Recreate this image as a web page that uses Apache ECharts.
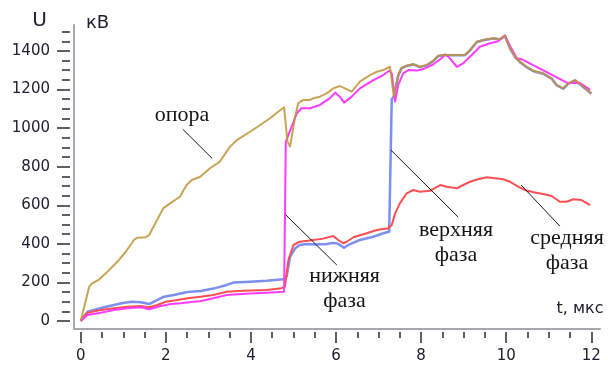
<!DOCTYPE html>
<html>
<head>
<meta charset="utf-8">
<script src="https://cdn.jsdelivr.net/npm/echarts@6/dist/echarts.min.js"></script>
<style>
  html, body { margin: 0; padding: 0; background: #fff; }
  #chart { width: 608px; height: 367px; }
</style>
</head>
<body>
<div id="chart"></div>
<script>
// Voltage waveforms, U (kV) versus t (µs)
const support = [[0,0],[0.2,178],[0.27,195],[0.43,215],[0.63,256],[0.86,307],[1.06,359],[1.25,420],[1.33,432],[1.52,434],[1.61,446],[1.71,489],[1.94,584],[2.10,610],[2.33,644],[2.49,705],[2.61,731],[2.81,748],[3.04,792],[3.27,826],[3.51,904],[3.67,938],[3.98,981],[4.22,1016],[4.45,1051],[4.64,1085],[4.78,1108],[4.86,930],[4.92,904],[5.04,1059],[5.11,1128],[5.23,1146],[5.39,1146],[5.47,1155],[5.62,1163],[5.78,1180],[5.94,1206],[6.09,1218],[6.21,1206],[6.37,1189],[6.56,1241],[6.80,1275],[6.96,1292],[7.11,1301],[7.27,1318],[7.31,1310],[7.36,1163],[7.46,1275],[7.54,1313],[7.66,1324],[7.82,1331],[7.97,1318],[8.13,1327],[8.29,1350],[8.40,1375],[8.52,1379],[9.03,1380],[9.15,1405],[9.31,1448],[9.46,1457],[9.70,1466],[9.85,1462],[9.97,1479],[10.09,1414],[10.21,1370],[10.32,1345],[10.48,1318],[10.64,1297],[10.87,1284],[11.07,1258],[11.19,1223],[11.34,1206],[11.46,1232],[11.62,1249],[11.77,1223],[12.0,1180]];

const lowerPhase = [[0,0],[0.16,31],[0.47,43],[0.78,57],[1.10,66],[1.41,71],[1.61,61],[1.88,78],[2.12,88],[2.35,92],[2.66,100],[2.80,102],[3.12,118],[3.43,135],[3.98,143],[4.37,147],[4.78,152],[4.82,930],[4.86,925],[5.08,1077],[5.19,1103],[5.39,1103],[5.62,1120],[5.86,1155],[5.98,1184],[6.09,1163],[6.19,1132],[6.37,1163],[6.56,1206],[6.88,1249],[7.11,1275],[7.25,1297],[7.31,1285],[7.39,1137],[7.46,1223],[7.58,1284],[7.70,1301],[7.90,1298],[8.05,1306],[8.29,1331],[8.48,1362],[8.56,1382],[8.64,1370],[8.84,1318],[8.99,1336],[9.19,1379],[9.38,1422],[9.62,1440],[9.81,1450],[9.97,1481],[10.09,1426],[10.25,1362],[10.36,1357],[11.46,1232],[11.73,1235],[11.97,1198]];

const upperPhase = [[0,0],[0.16,48],[0.31,57],[0.55,71],[0.78,83],[1.02,95],[1.21,100],[1.41,97],[1.61,88],[1.72,100],[1.96,126],[2.19,135],[2.51,150],[2.82,155],[3.12,168],[3.43,187],[3.59,199],[3.98,204],[4.37,209],[4.76,216],[4.84,230],[4.92,333],[5.04,377],[5.15,394],[5.31,399],[5.55,396],[5.78,399],[5.94,405],[6.05,400],[6.19,380],[6.33,399],[6.56,420],[6.88,437],[7.11,455],[7.25,463],[7.29,470],[7.31,1150],[7.36,1165],[7.46,1270],[7.54,1310],[7.66,1322],[7.82,1330],[7.97,1316],[8.13,1325],[8.29,1348],[8.40,1373],[8.52,1378],[9.03,1378],[9.15,1402],[9.31,1446],[9.46,1455],[9.70,1464],[9.85,1460],[9.97,1477],[10.09,1412],[10.21,1368],[10.32,1343],[10.48,1316],[10.64,1295],[10.87,1282],[11.07,1256],[11.19,1221],[11.34,1204],[11.46,1230],[11.62,1247],[11.77,1221],[12.0,1178]];

const middlePhase = [[0,0],[0.16,43],[0.47,57],[0.78,66],[1.10,74],[1.41,78],[1.61,71],[1.80,83],[2.0,100],[2.27,109],[2.51,118],[2.82,126],[3.12,135],[3.43,152],[3.82,157],[4.37,161],[4.72,170],[4.80,178],[4.88,316],[5.0,394],[5.15,411],[5.47,420],[5.70,427],[5.86,437],[5.94,440],[6.05,420],[6.17,403],[6.25,411],[6.41,434],[6.72,455],[6.96,472],[7.23,481],[7.31,498],[7.39,558],[7.50,610],[7.66,662],[7.82,679],[7.97,670],[8.21,675],[8.45,705],[8.60,696],[8.84,688],[8.99,705],[9.15,722],[9.27,731],[9.54,745],[9.74,740],[9.93,735],[10.09,722],[10.25,700],[10.44,679],[10.64,667],[10.87,658],[11.07,648],[11.26,618],[11.42,618],[11.58,631],[11.77,627],[11.97,601]];

// Axis ticks
const yLabelTicks = [0, 200, 400, 600, 800, 1000, 1200, 1400];
const ySmallTicks = [];
for (let v = 0; v <= 1500; v += 50) ySmallTicks.push(v);

// Callout texts, their anchor points and leader lines (t, U)
const calloutTexts = ['опора', 'нижняя\nфаза', 'верхняя\nфаза', 'средняя\nфаза'];
const calloutAnchors = [[2.38, 1068], [6.20, 165], [8.82, 407], [11.43, 364]];
const leaderLines = [[2.40, 994, 3.09, 843], [4.82, 550, 6.02, 290], [7.29, 886, 8.87, 539], [10.35, 705, 11.26, 492]];

const sans = 'DejaVu Sans';
const serif = 'Liberation Serif';
const textColor = '#202030';
const tickStyle = { color: '#2a2a35', width: 1.5 };
const plain = v => String(v);

const chart = echarts.init(document.getElementById('chart'), null, { renderer: 'canvas' });

function lineSeries(data, color, width, z, opacity) {
  return {
    type: 'line', data, xAxisIndex: 0, yAxisIndex: 0,
    showSymbol: false, symbol: 'none', clip: false, z,
    lineStyle: { color, width, opacity: opacity == null ? 1 : opacity, join: 'round' },
    emphasis: { disabled: true }
  };
}

chart.setOption({
  animation: false,
  backgroundColor: '#ffffff',
  grid: [
    { left: 80.7, top: 31.65, width: 510.6, height: 289.35 },
    { left: 74, top: 25, width: 526, height: 303.3 }
  ],
  xAxis: [
    {
      gridIndex: 0, type: 'value', min: 0, max: 12, interval: 2,
      position: 'bottom', offset: 11,
      axisLine: { show: false, onZero: false },
      axisTick: { show: true, length: 11, lineStyle: tickStyle },
      minorTick: { show: true, splitNumber: 4, length: 6, lineStyle: tickStyle },
      splitLine: { show: false }, minorSplitLine: { show: false },
      axisLabel: { margin: 17, fontSize: 15, fontFamily: sans, color: textColor, formatter: plain }
    },
    {
      gridIndex: 1, type: 'value', min: 0, max: 1,
      axisLine: { show: true, onZero: false, lineStyle: { color: '#a6a6ae', width: 2 } },
      axisTick: { show: false }, axisLabel: { show: false }, splitLine: { show: false }
    }
  ],
  yAxis: [
    {
      gridIndex: 0, type: 'value', min: 0, max: 1500,
      position: 'left', offset: 10.7,
      axisLine: { show: false, onZero: false },
      axisTick: { show: true, length: 13, customValues: yLabelTicks, lineStyle: tickStyle },
      axisLabel: { customValues: yLabelTicks, margin: 20, fontSize: 15, fontFamily: sans, color: textColor, formatter: plain },
      splitLine: { show: false }
    },
    {
      gridIndex: 0, type: 'value', min: 0, max: 1500,
      position: 'left', offset: 10.7,
      axisLine: { show: false, onZero: false },
      axisTick: { show: true, length: 8, customValues: ySmallTicks, lineStyle: tickStyle },
      axisLabel: { show: false },
      splitLine: { show: false }
    },
    {
      gridIndex: 1, type: 'value', min: 0, max: 1,
      axisLine: { show: true, onZero: false, lineStyle: { color: '#a6a6ae', width: 2 } },
      axisTick: { show: false }, axisLabel: { show: false }, splitLine: { show: false }
    }
  ],
  graphic: [
    { type: 'text', x: 39.5, y: 21, style: { text: 'U', font: '20px "DejaVu Sans"', fill: textColor, align: 'center', verticalAlign: 'middle' } },
    { type: 'text', x: 97.5, y: 23.5, style: { text: 'кВ', font: '18px "DejaVu Sans"', fill: textColor, align: 'center', verticalAlign: 'middle' } },
    { type: 'text', x: 580, y: 309, style: { text: 't, мкс', font: '16px "DejaVu Sans"', fill: textColor, align: 'center', verticalAlign: 'middle' } }
  ],
  series: [
    lineSeries(upperPhase, '#7d8ff0', 2.5, 2),
    lineSeries(middlePhase, '#ff4f55', 2, 3),
    lineSeries(lowerPhase, '#ff3cff', 2, 4),
    lineSeries(support, '#bf9438', 2, 5, 0.85),
    {
      type: 'custom', xAxisIndex: 0, yAxisIndex: 0, z: 10, silent: true, clip: false,
      data: leaderLines,
      renderItem: function (params, api) {
        const a = api.coord([api.value(0), api.value(1)]);
        const b = api.coord([api.value(2), api.value(3)]);
        return { type: 'line', shape: { x1: a[0], y1: a[1], x2: b[0], y2: b[1] }, style: { stroke: '#1a1a1a', lineWidth: 1 } };
      }
    },
    {
      type: 'custom', xAxisIndex: 0, yAxisIndex: 0, z: 10, silent: true, clip: false,
      data: calloutAnchors.map((p, i) => [p[0], p[1], i]),
      renderItem: function (params, api) {
        const p = api.coord([api.value(0), api.value(1)]);
        return {
          type: 'text', x: p[0], y: p[1],
          style: {
            text: calloutTexts[api.value(2)], font: '22px "' + serif + '"', lineHeight: 25,
            fill: '#151515', align: 'center', verticalAlign: 'middle'
          }
        };
      }
    }
  ]
});
</script>
</body>
</html>
